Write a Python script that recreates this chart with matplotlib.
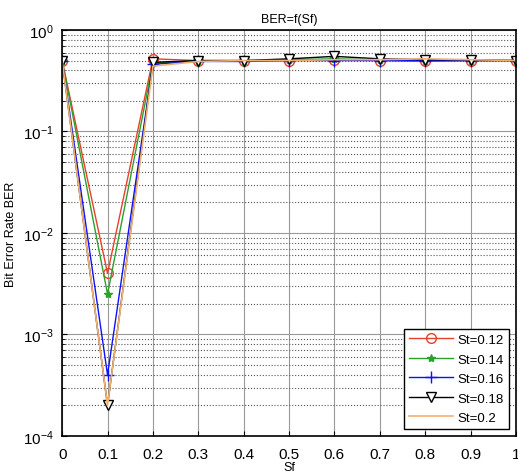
import numpy as np
import matplotlib.pyplot as plt

plt.rcParams['font.family'] = ['Liberation Sans', 'DejaVu Sans']

sf = [0, 0.1, 0.2, 0.3, 0.4, 0.5, 0.6, 0.7, 0.8, 0.9, 1.0]
ber_012 = [0.5, 0.004, 0.52, 0.5, 0.49, 0.5, 0.51, 0.5, 0.49, 0.5, 0.5]
ber_014 = [0.5, 0.0025, 0.47, 0.5, 0.5, 0.51, 0.52, 0.51, 0.5, 0.5, 0.5]
ber_016 = [0.5, 0.0004, 0.46, 0.49, 0.49, 0.5, 0.5, 0.5, 0.5, 0.5, 0.5]
ber_018 = [0.5, 0.0002, 0.48, 0.5, 0.5, 0.52, 0.55, 0.52, 0.51, 0.51, 0.5]
ber_020 = [0.5, 0.0002, 0.44, 0.49, 0.5, 0.5, 0.51, 0.51, 0.52, 0.51, 0.5]

fig = plt.figure(figsize=(5.18, 4.77), dpi=100)
ax = fig.add_axes([0.12, 0.084, 0.876, 0.851])

ax.semilogy(sf, ber_012, color='#e8402a', marker='o', mfc='none', ms=7, lw=1, label='St=0.12')
ax.semilogy(sf, ber_014, color='#2ca02c', marker='*', ms=6, lw=1, label='St=0.14')
ax.semilogy(sf, ber_016, color='#1010ff', marker='+', ms=8, lw=1, label='St=0.16')
ax.semilogy(sf, ber_018, color='black', marker='v', mfc='white', ms=7, lw=1, label='St=0.18')
ax.semilogy(sf, ber_020, color='#f0b070', lw=1.2, label='St=0.2')

ax.set_xlim(0, 1)
ax.set_ylim(1e-4, 1)
ax.set_xticks(np.arange(0, 1.01, 0.1))
ax.set_xticklabels(['0', '0.1', '0.2', '0.3', '0.4', '0.5', '0.6', '0.7', '0.8', '0.9', '1'])
ax.grid(True, which='major', color='#999999', lw=0.8)
ax.grid(True, which='minor', axis='y', color='#555555', ls=':', lw=0.8)
ax.tick_params(which='both', direction='in', labelsize=11)
ax.tick_params(axis='x', pad=8)
ax.tick_params(axis='y', pad=6)
for s in ax.spines.values():
    s.set_linewidth(1.2)

ax.set_title('BER=f(Sf)', fontsize=9)
ax.set_xlabel('Sf', fontsize=9, labelpad=0)
ax.set_ylabel('Bit Error Rate BER', fontsize=9)

leg = ax.legend(loc='lower right', fontsize=9.5, fancybox=False, edgecolor='black',
                framealpha=1, handlelength=3.3, handletextpad=0.4,
                labelspacing=0.55, borderaxespad=0.5)
leg.get_frame().set_linewidth(1)

fig.savefig('out.png', dpi=100)
